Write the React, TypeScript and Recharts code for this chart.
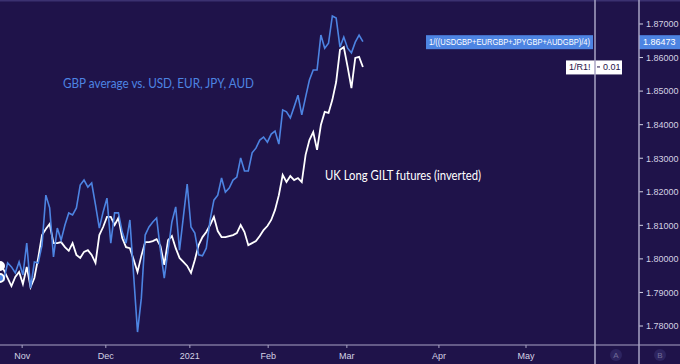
import React from 'react'
import { LineChart, Line, XAxis, YAxis, ReferenceLine } from 'recharts'

// daily closes, one per weekday from late Oct 2020 to early Mar 2021
const gbpAverage = [
  1.7943, 1.7937, 1.7988, 1.7976, 1.7958, 1.7991, 1.7952, 1.8047, 1.7913, 1.7991,
  1.7988, 1.8041, 1.819, 1.8152, 1.8006, 1.8092, 1.8056, 1.8101, 1.8137, 1.8131,
  1.8152, 1.822, 1.8235, 1.8214, 1.8226, 1.8161, 1.8092, 1.814, 1.8181, 1.8047,
  1.8137, 1.8137, 1.808, 1.8047, 1.8116, 1.7949, 1.7782, 1.7883, 1.8071, 1.8095,
  1.811, 1.8122, 1.8026, 1.7943, 1.8026, 1.811, 1.8155, 1.8026, 1.8125, 1.8223,
  1.8095, 1.8077, 1.8012, 1.8009, 1.8032, 1.8116, 1.8175, 1.819, 1.8241, 1.8199,
  1.8211, 1.8235, 1.8244, 1.8301, 1.8262, 1.8262, 1.8316, 1.833, 1.8354, 1.8363,
  1.8348, 1.8372, 1.8381, 1.8342, 1.8444, 1.8438, 1.842, 1.8453, 1.8488, 1.8429,
  1.8482, 1.8533, 1.8563, 1.8563, 1.8667, 1.8628, 1.8643, 1.8724, 1.8718, 1.8631,
  1.8661, 1.8628, 1.8614, 1.8646, 1.8667, 1.86473,
]

const giltInverted = [
  1.7979, 1.7967, 1.7943, 1.7919, 1.7946, 1.7961, 1.7925, 1.7976, 1.7916, 1.7943,
  1.8003, 1.8071, 1.8089, 1.8104, 1.8047, 1.8047, 1.805, 1.8035, 1.8024, 1.8047,
  1.8012, 1.8003, 1.8021, 1.8026, 1.8012, 1.7988, 1.8071, 1.8095, 1.8125, 1.8125,
  1.8101, 1.8122, 1.8062, 1.8035, 1.8032, 1.7997, 1.7961, 1.8009, 1.805, 1.805,
  1.8053, 1.8059, 1.8038, 1.7982, 1.8056, 1.8068, 1.8032, 1.8003, 1.7991, 1.7979,
  1.7958, 1.7997, 1.8041, 1.8065, 1.808, 1.8101, 1.8125, 1.8083, 1.8065, 1.8065,
  1.8068, 1.8071, 1.8077, 1.8101, 1.808, 1.8041, 1.8047, 1.8053, 1.8068, 1.8086,
  1.8098, 1.8116, 1.8146, 1.819, 1.825, 1.8229, 1.8247, 1.8235, 1.8241, 1.8229,
  1.831, 1.8354, 1.8378, 1.8325, 1.8399, 1.8438, 1.8435, 1.8474, 1.8527, 1.8623,
  1.8631, 1.8572, 1.8509, 1.8599, 1.8602, 1.8572,
]

const monthTicks = [5.8, 27.7, 49.7, 70.2, 90.8, 114.9, 137.7]
const monthLabels = ['Nov', 'Dec', '2021', 'Feb', 'Mar', 'Apr', 'May']
const priceTicks = [1.78, 1.79, 1.8, 1.81, 1.82, 1.83, 1.84, 1.85, 1.86, 1.87]

const BG = '#1f134a'
const BLUE = '#4d84e2'
const RULE = '#a9a4c4'
const TEXT = '#d4d2e4'
const FONT = 'Liberation Sans, Arial, sans-serif'

const data = gbpAverage.map((v, i) => ({ i, gbp: v, gilt: giltInverted[i] }))
const lastGbp = gbpAverage[gbpAverage.length - 1]
const lastGilt = giltInverted[giltInverted.length - 1]

const PriceTick = (props: any) => {
  const { y, payload } = props
  return (
    <g>
      <line x1={639} x2={643} y1={y} y2={y} stroke={TEXT} />
      <text x={646} y={y} dy={3.3} fill={TEXT} fontSize={9} fontFamily={FONT}>
        {payload.value.toFixed(5)}
      </text>
    </g>
  )
}

const MonthTick = (props: any) => {
  const { x, payload, index } = props
  return (
    <g>
      <line x1={x} x2={x} y1={345} y2={348} stroke={RULE} />
      <text x={x} y={358.5} textAnchor="middle" fill={TEXT} fontSize={9} fontFamily={FONT}>
        {monthLabels[index] ?? payload.value}
      </text>
    </g>
  )
}

const GbpTag = (props: any) => {
  const y = props.viewBox.y
  return (
    <g>
      <rect x={426} y={y - 6.5} width={167} height={14} fill={BLUE} />
      <text x={429} y={y} dy={3.5} fill="#fff" fontSize={9} fontFamily={FONT} textLength={161} lengthAdjust="spacingAndGlyphs">
        1/((USDGBP+EURGBP+JPYGBP+AUDGBP)/4)
      </text>
      <rect x={639} y={y - 6.5} width={41} height={14} fill={BLUE} />
      <text x={643} y={y} dy={3.5} fill="#fff" fontSize={9} fontFamily={FONT}>
        {lastGbp.toFixed(5)}
      </text>
    </g>
  )
}

const GiltTag = (props: any) => {
  const y = props.viewBox.y
  return (
    <g>
      <rect x={566} y={y - 6.5} width={56} height={14} fill="#ffffff" />
      <text x={569} y={y} dy={3.5} fill="#1f134a" fontSize={9} fontFamily={FONT}>1/R1!</text>
      <line x1={597} x2={600} y1={y} y2={y} stroke="#1f134a" />
      <text x={603} y={y} dy={3.5} fill="#1f134a" fontSize={9} fontFamily={FONT}>0.01</text>
    </g>
  )
}

const App = () => {
  return (
    <div style={{ position: 'absolute', left: 0, top: 0, width: 680, height: 364, background: BG, overflow: 'hidden' }}>
      <div style={{ position: 'absolute', left: 0, top: 0 }}>
        <LineChart width={680} height={364} data={data} margin={{ top: 0, right: 0, bottom: 0, left: 0 }}>
          <XAxis
            dataKey="i"
            type="number"
            domain={[0, 155.76]}
            ticks={monthTicks}
            interval={0}
            height={19}
            axisLine={false}
            tickLine={false}
            tick={<MonthTick />}
            allowDataOverflow
          />
          <YAxis
            orientation="right"
            width={85}
            domain={[1.77434, 1.87715]}
            ticks={priceTicks}
            interval={0}
            axisLine={false}
            tickLine={false}
            tick={<PriceTick />}
            allowDataOverflow
          />
          <Line dataKey="gilt" stroke="#ffffff" strokeWidth={1.8} dot={false} isAnimationActive={false} />
          <Line dataKey="gbp" stroke={BLUE} strokeWidth={1.6} dot={false} isAnimationActive={false} />
          <ReferenceLine y={lastGilt} stroke="none" label={<GiltTag />} />
          <ReferenceLine y={lastGbp} stroke="none" label={<GbpTag />} />
        </LineChart>
      </div>
      <svg width={680} height={364} style={{ position: 'absolute', left: 0, top: 0, pointerEvents: 'none' }}>
        <rect x={0} y={0} width={680} height={1.5} fill="#3b3170" />
        <line x1={595} x2={595} y1={0} y2={364} stroke={RULE} strokeWidth={1.5} />
        <line x1={639} x2={639} y1={0} y2={364} stroke={RULE} strokeWidth={1.5} />
        <line x1={0} x2={680} y1={345} y2={345} stroke={RULE} strokeWidth={1.2} />
        <circle cx={616} cy={355} r={6} fill="#2d2460" />
        <text x={616} y={358} textAnchor="middle" fill="#726c98" fontSize={8} fontFamily={FONT}>A</text>
        <circle cx={660} cy={355} r={6} fill="#2d2460" />
        <text x={660} y={358} textAnchor="middle" fill="#726c98" fontSize={8} fontFamily={FONT}>B</text>
        <text x={63} y={87.5} fill={BLUE} fontSize={12.5} fontFamily="Lato, sans-serif" textLength={191} lengthAdjust="spacingAndGlyphs">
          GBP average vs. USD, EUR, JPY, AUD
        </text>
        <text x={325} y={179.5} fill="#ffffff" fontSize={12.5} fontFamily="Lato, sans-serif" textLength={156} lengthAdjust="spacingAndGlyphs">
          UK Long GILT futures (inverted)
        </text>
      </svg>
    </div>
  )
}

export default App
